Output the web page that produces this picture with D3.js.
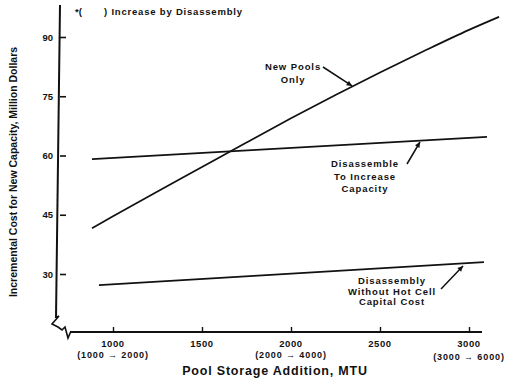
<!DOCTYPE html>
<html><head><meta charset="utf-8">
<script src="https://cdn.jsdelivr.net/npm/d3@7"></script>
<style>
html,body{margin:0;padding:0;background:#fff;}
svg{display:block;}
text{font-family:"Liberation Sans",Arial,sans-serif;font-weight:bold;fill:#111;}
</style></head>
<body>
<svg id="c" width="509" height="388"></svg>
<script>
// ---- data ----
const xTicks = [1000, 1500, 2000, 2500, 3000];
const xTickSub = ["(1000 \u2192 2000)", "", "(2000 \u2192 4000)", "", "(3000 \u2192 6000)"];
const yTicks = [30, 45, 60, 75, 90];

const newPoolsX = [882, 1000, 1250, 1500, 1750, 2000, 2250, 2500, 2750, 3000, 3169];
const newPoolsY = [41.6, 44.6, 50.9, 57.1, 63.3, 69.4, 75.3, 81.0, 86.5, 91.8, 95.1];

const disassembleX = [882, 3101];
const disassembleY = [59.1, 64.7];

const noHotCellX = [921, 3084];
const noHotCellY = [27.2, 33.0];

const yTitle = "Incremental Cost for New Capacity, Million Dollars";
const xTitle = "Pool Storage Addition, MTU";
const note = ") Increase by Disassembly";

// ---- drawing ----
const svg = d3.select("#c");
const x = d3.scaleLinear().domain([1000, 3000]).range([113, 469]);
const y = d3.scaleLinear().domain([30, 90]).range([274, 37]);
const axX = 60, axYb = 332;

// y axis
const gy = svg.append("g").attr("transform", `translate(${axX},0)`)
  .call(d3.axisLeft(y).tickValues(yTicks).tickSize(-6).tickPadding(7).tickFormat(d3.format("d")));
gy.select(".domain").remove();
gy.selectAll(".tick line").attr("stroke", "#111").attr("stroke-width", 1.6);
gy.selectAll(".tick text").style("font-size", "9.5px").style("font-family", "Liberation Sans, Arial, sans-serif").attr("font-weight", "bold");
svg.append("path").attr("d", `M${axX},5 L${axX - 4},318`).attr("stroke", "#111").attr("stroke-width", 2).attr("fill", "none");
// axis break symbol
svg.append("path").attr("d", `M${axX - 4},318 L${axX - 1},316 L${axX - 8},324 L${axX - 2},327 L${axX + 2},330 L${axX + 5},327 L${axX + 8},338 L${axX + 11},331`)
  .attr("stroke", "#111").attr("stroke-width", 1.6).attr("fill", "none");

// x axis
const gx = svg.append("g").attr("transform", `translate(0,${axYb})`)
  .call(d3.axisBottom(x).tickValues(xTicks).tickSize(-5).tickFormat(""));
gx.select(".domain").remove();
gx.selectAll(".tick line").attr("stroke", "#111").attr("stroke-width", 1.4);
svg.append("line").attr("x1", axX + 11).attr("y1", axYb).attr("x2", 482).attr("y2", axYb)
  .attr("stroke", "#111").attr("stroke-width", 1.8);

const lab = svg.append("g");
xTicks.forEach((t, i) => {
  const sub = xTickSub[i];
  lab.append("text").attr("x", x(t)).attr("y", 347).attr("text-anchor", "middle")
    .style("font-size", "9.5px").style("letter-spacing", "0.6px").text(d3.format("d")(t));
  if (sub) lab.append("text").attr("x", x(t)).attr("y", 358 + (i === 4 ? 2 : 0)).attr("text-anchor", "middle")
    .style("font-size", "9px").style("letter-spacing", "0.9px").text(sub);
});

// titles
svg.append("text").attr("transform", "translate(17,172) rotate(-90)").attr("text-anchor", "middle")
  .style("font-size", "10.5px").text(yTitle);
svg.append("text").attr("x", 275).attr("y", 375).attr("text-anchor", "middle")
  .style("font-size", "12.5px").style("letter-spacing", "0.8px").text(xTitle);
svg.append("text").attr("x", 75).attr("y", 15).style("font-size", "9.5px").text("*(");
svg.append("text").attr("x", 104).attr("y", 15).style("font-size", "9.5px").style("letter-spacing", "0.8px").text(note);

// lines
const line = d3.line().x(d => x(d[0])).y(d => y(d[1])).curve(d3.curveMonotoneX);
const series = [
  [newPoolsX, newPoolsY],
  [disassembleX, disassembleY],
  [noHotCellX, noHotCellY]
];
series.forEach(([xs, ys]) => {
  svg.append("path").datum(xs.map((v, i) => [v, ys[i]])).attr("d", line)
    .attr("fill", "none").attr("stroke", "#111").attr("stroke-width", 1.7);
});

// annotations
function label(lines, cx, cy, size, gap) {
  lines.forEach((t, i) => svg.append("text").attr("x", cx).attr("y", cy + i * gap)
    .attr("text-anchor", "middle").style("font-size", size + "px").style("letter-spacing", "0.9px").text(t));
}
label(["New Pools", "Only"], 293, 70, 9.5, 13);
label(["Disassemble", "To Increase", "Capacity"], 365, 167, 9.5, 12.5);
label(["Disassembly", "Without Hot Cell", "Capital Cost"], 392, 284, 9.5, 10.5);

function arrow(x1, y1, x2, y2) {
  svg.append("line").attr("x1", x1).attr("y1", y1).attr("x2", x2).attr("y2", y2)
    .attr("stroke", "#111").attr("stroke-width", 1.5);
  const a = Math.atan2(y2 - y1, x2 - x1), L = 6, w = 0.45;
  const p = [[x2, y2],
    [x2 - L * Math.cos(a - w), y2 - L * Math.sin(a - w)],
    [x2 - L * Math.cos(a + w), y2 - L * Math.sin(a + w)]];
  svg.append("path").attr("d", "M" + p.join("L") + "Z").attr("fill", "#111");
}
arrow(323, 67, x(2343), y(77.6));
arrow(407, 164, 420, 142);
arrow(441, 289, 463, 266);
</script>
</body></html>
